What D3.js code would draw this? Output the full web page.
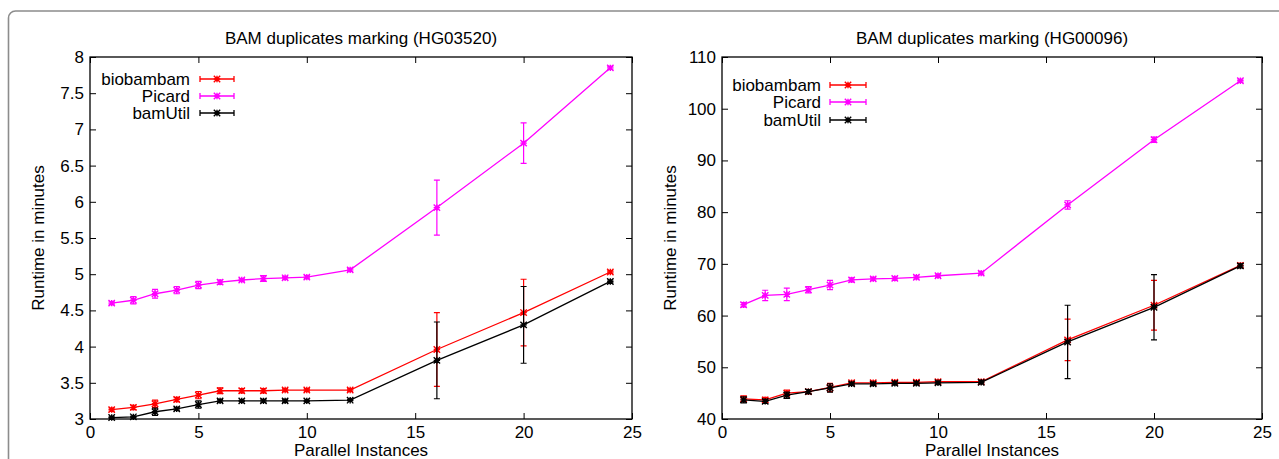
<!DOCTYPE html>
<html><head><meta charset="utf-8">
<script src="https://cdn.jsdelivr.net/npm/d3@7"></script>
<style>
html,body{margin:0;padding:0;background:#fff;}
svg{display:block;font-family:"Liberation Sans",Arial,Helvetica,sans-serif;}
</style></head>
<body>
<svg id="chart" width="1279" height="459"></svg>
<script>
// ---- data ----
const instances = [1,2,3,4,5,6,7,8,9,10,12,16,20,24];
const seriesNames = ["biobambam","Picard","bamUtil"];
const seriesColors = ["#ff0000","#ff00ff","#000000"];

// HG03520 (left)
const bioA    = [3.13,3.16,3.21,3.27,3.33,3.39,3.39,3.39,3.40,3.40,3.40,3.96,4.47,5.03];
const bioAErr = [0.02,0.03,0.05,0.03,0.05,0.04,0.03,0.03,0.02,0.02,0.02,0.51,0.46,0.02];
const picA    = [4.60,4.64,4.73,4.78,4.85,4.89,4.92,4.94,4.95,4.96,5.06,5.92,6.81,7.85];
const picAErr = [0.02,0.05,0.06,0.05,0.05,0.03,0.02,0.04,0.02,0.02,0.02,0.38,0.28,0.02];
const bamA    = [3.02,3.03,3.10,3.14,3.20,3.25,3.25,3.25,3.25,3.25,3.26,3.81,4.30,4.90];
const bamAErr = [0.01,0.01,0.05,0.02,0.05,0.02,0.01,0.02,0.02,0.01,0.01,0.53,0.53,0.02];

// HG00096 (right)
const bioB    = [43.9,43.7,45.0,45.3,46.1,47.0,47.0,47.1,47.1,47.2,47.2,55.3,62.0,69.7];
const bioBErr = [0.6,0.5,0.6,0.4,0.8,0.3,0.3,0.3,0.3,0.3,0.3,4.0,4.8,0.4];
const picB    = [62.1,63.9,64.1,65.0,65.9,66.9,67.1,67.2,67.4,67.7,68.2,81.4,94.0,105.4];
const picBErr = [0.4,1.0,1.2,0.6,0.9,0.4,0.3,0.3,0.3,0.3,0.3,0.8,0.5,0.3];
const bamB    = [43.7,43.4,44.6,45.3,46.0,46.8,46.8,46.9,46.9,47.0,47.1,54.9,61.6,69.6];
const bamBErr = [0.6,0.4,0.6,0.4,0.8,0.3,0.3,0.3,0.3,0.3,0.3,7.1,6.3,0.4];

const xTicks = [0,5,10,15,20,25];
const yTicksA = [3,3.5,4,4.5,5,5.5,6,6.5,7,7.5,8];
const yTicksB = [40,50,60,70,80,90,100,110];

const titles = ["BAM duplicates marking (HG03520)","BAM duplicates marking (HG00096)"];
const xLabel = "Parallel Instances";
const yLabel = "Runtime in minutes";

// ---- drawing ----
const svg = d3.select("#chart");
const FS = 17;

// outer rounded frame (clipped by the image on right/bottom)
svg.append("rect").attr("x",8.5).attr("y",11).attr("width",1400).attr("height",600)
  .attr("rx",7).attr("fill","none").attr("stroke","#8c8c8c").attr("stroke-width",1.6);

const panels = [
  {x0:90,x1:632,y0:57,y1:419,ydom:[3,8],yt:yTicksA,title:titles[0],
   vals:[bioA,picA,bamA],errs:[bioAErr,picAErr,bamAErr],
   yfmt:d=>String(d),ylx:38,leg:{tx:190,lx0:200,lx1:234,ys:[79,96,113]}},
  {x0:722,x1:1262,y0:57,y1:419,ydom:[40,110],yt:yTicksB,title:titles[1],
   vals:[bioB,picB,bamB],errs:[bioBErr,picBErr,bamBErr],
   yfmt:d=>String(d),ylx:670,leg:{tx:821,lx0:830,lx1:866,ys:[85,102,120]}}
];

function marker(g, cx, cy, color){
  const s=3.2;
  g.append("path")
    .attr("d",`M${cx-s},${cy}H${cx+s}M${cx},${cy-s}V${cy+s}M${cx-s},${cy-s}L${cx+s},${cy+s}M${cx-s},${cy+s}L${cx+s},${cy-s}`)
    .attr("stroke",color).attr("stroke-width",1.4).attr("fill","none");
}

panels.forEach(p=>{
  const x = d3.scaleLinear().domain([0,25]).range([p.x0,p.x1]);
  const y = d3.scaleLinear().domain(p.ydom).range([p.y1,p.y0]);
  const g = svg.append("g");

  const styleAxis = sel=>{
    sel.select(".domain").remove();
    sel.selectAll(".tick line").attr("stroke","#000").attr("stroke-width",1);
    sel.selectAll("text").attr("font-size",FS).attr("fill","#000")
       .attr("font-family","'Liberation Sans',Arial,Helvetica,sans-serif");
  };
  g.append("g").attr("transform",`translate(${p.x0},0)`)
    .call(d3.axisLeft(y).tickValues(p.yt).tickFormat(p.yfmt).tickSizeInner(-6).tickSizeOuter(0).tickPadding(6))
    .call(styleAxis);
  g.append("g").attr("transform",`translate(${p.x1},0)`)
    .call(d3.axisRight(y).tickValues(p.yt).tickFormat("").tickSizeInner(-6).tickSizeOuter(0))
    .call(styleAxis);
  g.append("g").attr("transform",`translate(0,${p.y1})`)
    .call(d3.axisBottom(x).tickValues(xTicks).tickFormat(d3.format("d")).tickSizeInner(-6).tickSizeOuter(0).tickPadding(7))
    .call(styleAxis);
  g.append("g").attr("transform",`translate(0,${p.y0})`)
    .call(d3.axisTop(x).tickValues(xTicks).tickFormat("").tickSizeInner(-6).tickSizeOuter(0))
    .call(styleAxis);

  g.append("rect").attr("x",p.x0).attr("y",p.y0).attr("width",p.x1-p.x0).attr("height",p.y1-p.y0)
    .attr("fill","none").attr("stroke","#000").attr("stroke-width",1.3);

  const cx = (p.x0+p.x1)/2;
  g.append("text").attr("x",cx).attr("y",44).attr("text-anchor","middle").attr("font-size",FS).text(p.title);
  g.append("text").attr("x",cx).attr("y",456).attr("text-anchor","middle").attr("font-size",FS).text(xLabel);
  g.append("text").attr("transform",`translate(${p.ylx+6},${(p.y0+p.y1)/2}) rotate(-90)`)
    .attr("text-anchor","middle").attr("font-size",FS).text(yLabel);

  p.vals.forEach((vals,si)=>{
    const color = seriesColors[si];
    const errs = p.errs[si];
    const pts = instances.map((d,i)=>({x:d,y:vals[i],e:errs[i]}));
    const sg = g.append("g");
    sg.append("path").datum(pts)
      .attr("d",d3.line().x(d=>x(d.x)).y(d=>y(d.y)))
      .attr("fill","none").attr("stroke",color).attr("stroke-width",1.3);
    pts.forEach(d=>{
      const px=x(d.x), yt=y(d.y+d.e), yb=y(d.y-d.e);
      sg.append("path").attr("d",`M${px},${yt}V${yb}M${px-3},${yt}H${px+3}M${px-3},${yb}H${px+3}`)
        .attr("stroke",color).attr("stroke-width",1.2).attr("fill","none");
      marker(sg, px, y(d.y), color);
    });
    const ly = p.leg.ys[si];
    g.append("text").attr("x",p.leg.tx).attr("y",ly).attr("dy","0.35em").attr("text-anchor","end")
      .attr("font-size",FS).text(seriesNames[si]);
    const l0=p.leg.lx0, l1=p.leg.lx1;
    g.append("path").attr("d",`M${l0},${ly}H${l1}M${l0},${ly-3}V${ly+3}M${l1},${ly-3}V${ly+3}`)
      .attr("stroke",color).attr("stroke-width",1.3).attr("fill","none");
    marker(g,(l0+l1)/2,ly,color);
  });
});
</script>
</body></html>
